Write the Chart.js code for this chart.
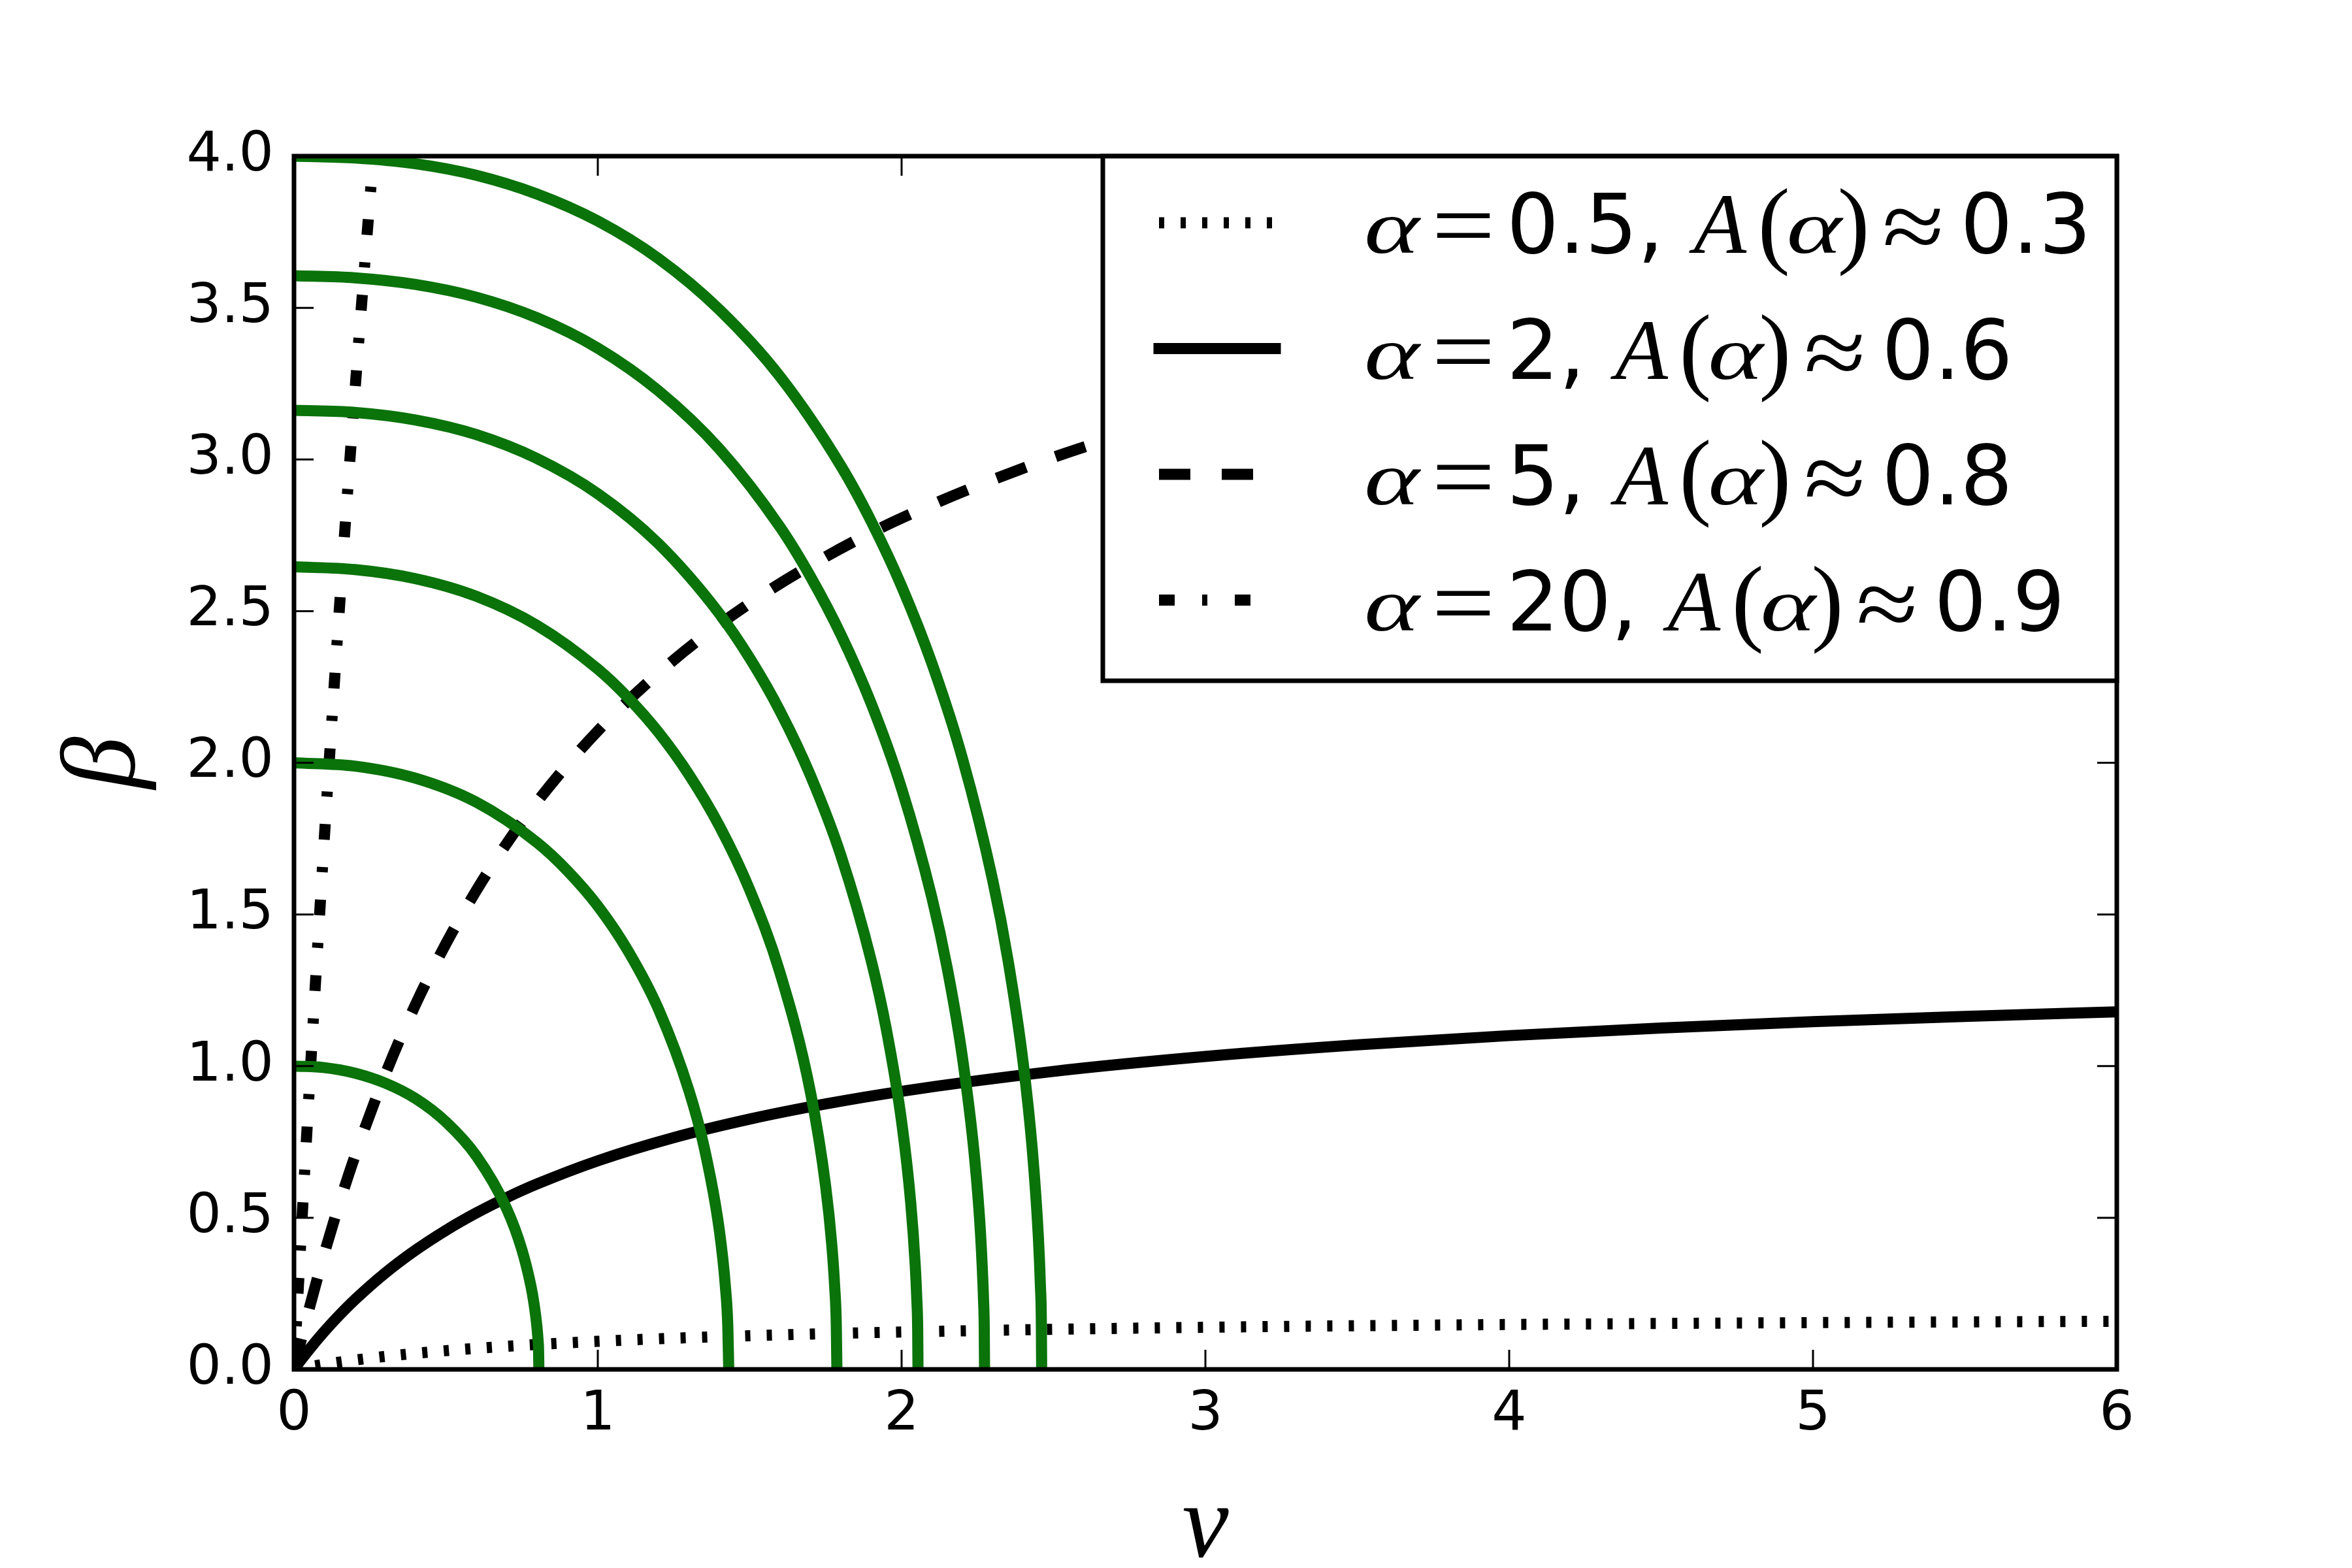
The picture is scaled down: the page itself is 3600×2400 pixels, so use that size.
<!DOCTYPE html>
<html>
<head>
<meta charset="utf-8">
<script src="https://cdn.jsdelivr.net/npm/chart.js@4.4.1/dist/chart.umd.min.js"></script>
<style>
  html, body { margin: 0; padding: 0; background: #fff; }
  canvas { display: block; }
</style>
</head>
<body>
<canvas id="chart" width="3600" height="2400"></canvas>
<script>
// nu grid shared by the alpha = 0.5, 2 and 5 curves
const curveNu = [0, 0.02, 0.05, 0.1, 0.15, 0.2, 0.3, 0.4, 0.5, 0.6, 0.7, 0.8, 1.0, 1.25, 1.5, 1.75, 2, 2.5, 3, 3.5, 4, 4.5, 5, 5.5, 6];
const betaAlpha05 = [0, 0.0036, 0.0088, 0.0168, 0.0241, 0.0308, 0.0427, 0.0529, 0.0617, 0.0694, 0.0762, 0.0822, 0.0925, 0.1028, 0.111, 0.1177, 0.1233, 0.1321, 0.1388, 0.1439, 0.148, 0.1514, 0.1542, 0.1565, 0.1586];
const betaAlpha2 = [0, 0.027, 0.0655, 0.125, 0.1794, 0.2293, 0.3174, 0.393, 0.4585, 0.5158, 0.5664, 0.6113, 0.6878, 0.7642, 0.8253, 0.8753, 0.917, 0.9825, 1.0316, 1.0698, 1.1004, 1.1254, 1.1463, 1.1639, 1.179];
const betaAlpha5 = [0, 0.0826, 0.2005, 0.3827, 0.5491, 0.7017, 0.9715, 1.2029, 1.4033, 1.5788, 1.7335, 1.8711, 2.105, 2.3389, 2.526, 2.6791, 2.8067, 3.0071, 3.1575, 3.2744, 3.368, 3.4445, 3.5083, 3.5623, 3.6086];
const nuAlpha20 = [0, 0.01, 0.02, 0.04, 0.06, 0.08, 0.1, 0.12, 0.14, 0.16, 0.18, 0.2, 0.22, 0.24, 0.26, 0.28];
const betaAlpha20 = [0, 0.191, 0.378, 0.742, 1.092, 1.430, 1.755, 2.068, 2.370, 2.662, 2.944, 3.217, 3.480, 3.735, 3.983, 4.222];

// green level curves
const arc1Nu = [0, 0.1, 0.2, 0.3, 0.4, 0.5, 0.6, 0.7, 0.75, 0.78, 0.79, 0.8, 0.803, 0.805, 0.806];
const arc1Beta = [1, 0.995, 0.977, 0.944, 0.893, 0.816, 0.704, 0.530, 0.395, 0.274, 0.217, 0.137, 0.100, 0.065, 0];
const arc2Nu = [0, 0.2, 0.4, 0.6, 0.8, 0.9, 1.0, 1.1, 1.2, 1.3, 1.35, 1.4, 1.42, 1.428, 1.431];
const arc2Beta = [2, 1.989, 1.949, 1.870, 1.737, 1.644, 1.528, 1.379, 1.187, 0.919, 0.733, 0.459, 0.273, 0.140, 0];
const arc3Nu = [0, 0.2, 0.4, 0.6, 0.8, 1.0, 1.1, 1.2, 1.3, 1.4, 1.5, 1.6, 1.7, 1.75, 1.77, 1.78, 1.785, 1.787];
const arc3Beta = [2.646, 2.637, 2.607, 2.549, 2.453, 2.309, 2.214, 2.100, 1.961, 1.792, 1.581, 1.307, 0.914, 0.604, 0.413, 0.268, 0.149, 0];
const arc4Nu = [0, 0.2, 0.4, 0.6, 0.8, 1.0, 1.2, 1.4, 1.5, 1.6, 1.7, 1.8, 1.9, 1.95, 2.0, 2.03, 2.045, 2.05, 2.053, 2.054];
const arc4Beta = [3.162, 3.155, 3.130, 3.082, 3.003, 2.887, 2.722, 2.492, 2.345, 2.170, 1.958, 1.695, 1.348, 1.120, 0.817, 0.550, 0.341, 0.233, 0.129, 0];
const arc5Nu = [0, 0.2, 0.4, 0.6, 0.8, 1.0, 1.2, 1.4, 1.6, 1.7, 1.8, 1.9, 2.0, 2.1, 2.15, 2.2, 2.24, 2.26, 2.27, 2.272, 2.273];
const arc5Beta = [3.606, 3.599, 3.577, 3.535, 3.467, 3.367, 3.226, 3.035, 2.777, 2.614, 2.423, 2.195, 1.915, 1.554, 1.324, 1.030, 0.700, 0.444, 0.221, 0.139, 0];
const arc6Nu = [0, 0.2, 0.4, 0.6, 0.8, 1.0, 1.2, 1.4, 1.6, 1.8, 1.9, 2.0, 2.1, 2.2, 2.3, 2.35, 2.4, 2.43, 2.45, 2.457, 2.46, 2.461];
const arc6Beta = [4, 3.994, 3.975, 3.937, 3.875, 3.786, 3.662, 3.494, 3.273, 2.979, 2.796, 2.582, 2.327, 2.015, 1.612, 1.351, 1.012, 0.727, 0.440, 0.273, 0.154, 0];

const xTicks = [0, 1, 2, 3, 4, 5, 6];
const yTicks = [0, 0.5, 1, 1.5, 2, 2.5, 3, 3.5, 4];
const legendAlpha = ['0.5', '2', '5', '20'];
const legendA = ['0.3', '0.6', '0.8', '0.9'];

function pts(nu, beta) {
    return nu.map((x, i) => ({x: x, y: beta[i]}));
}

function blackLine(i, data, dash) {
    return {
        label: 'α = ' + legendAlpha[i] + ', A(α) ≈ ' + legendA[i],
        data: data,
        borderColor: '#000',
        borderWidth: 17,
        borderDash: dash,
        order: 1
    };
}

function greenLine(data) {
    return {label: '', data: data, borderColor: '#0a730a', borderWidth: 17, order: 0};
}

const datasets = [
    blackLine(0, pts(curveNu, betaAlpha05), [8, 25]),
    blackLine(1, pts(curveNu, betaAlpha2), []),
    blackLine(2, pts(curveNu, betaAlpha5), [48, 48]),
    blackLine(3, pts(nuAlpha20, betaAlpha20), [24, 42, 8, 42]),
    greenLine(pts(arc1Nu, arc1Beta)),
    greenLine(pts(arc2Nu, arc2Beta)),
    greenLine(pts(arc3Nu, arc3Beta)),
    greenLine(pts(arc4Nu, arc4Beta)),
    greenLine(pts(arc5Nu, arc5Beta)),
    greenLine(pts(arc6Nu, arc6Beta))
];
datasets.forEach(d => {
    d.showLine = true;
    d.pointRadius = 0;
    d.fill = false;
    d.clip = 0;
    d.cubicInterpolationMode = 'monotone';
});

// white page
const background = {
    id: 'background',
    beforeDraw(chart) {
        const ctx = chart.ctx;
        ctx.save();
        ctx.fillStyle = '#fff';
        ctx.fillRect(0, 0, chart.width, chart.height);
        ctx.restore();
    }
};

// frame, inward ticks on all four sides, axis titles
const frame = {
    id: 'frame',
    afterDatasetsDraw(chart) {
        const ctx = chart.ctx;
        const a = chart.chartArea;
        const xs = chart.scales.x, ys = chart.scales.y;
        ctx.save();
        ctx.strokeStyle = '#000';
        ctx.lineWidth = 3;
        ctx.beginPath();
        xTicks.forEach(v => {
            const px = xs.getPixelForValue(v);
            ctx.moveTo(px, a.bottom); ctx.lineTo(px, a.bottom - 30);
            ctx.moveTo(px, a.top); ctx.lineTo(px, a.top + 30);
        });
        yTicks.forEach(v => {
            const py = ys.getPixelForValue(v);
            ctx.moveTo(a.left, py); ctx.lineTo(a.left + 30, py);
            ctx.moveTo(a.right, py); ctx.lineTo(a.right - 30, py);
        });
        ctx.stroke();
        ctx.lineWidth = 7;
        ctx.strokeRect(a.left, a.top, a.right - a.left, a.bottom - a.top);

        ctx.fillStyle = '#000';
        ctx.font = 'italic 160px "Liberation Serif"';
        ctx.textAlign = 'center';
        ctx.textBaseline = 'alphabetic';
        ctx.fillText('ν', (a.left + a.right) / 2, 2382);
        ctx.translate(205, (a.top + a.bottom) / 2);
        ctx.rotate(-Math.PI / 2);
        ctx.fillText('β', 0, 0);
        ctx.restore();
    }
};

// draws a math-italic alpha a bit wider and flatter than the font's own
function drawAlpha(ctx, x, y) {
    ctx.save();
    ctx.translate(x, y);
    ctx.scale(1.22, 0.88);
    ctx.font = 'italic 132px "Liberation Serif"';
    ctx.textAlign = 'left';
    ctx.fillText('α', 0, 0);
    ctx.restore();
}

// relation sign (= or ≈), a little wider than the plain glyph
function drawRel(ctx, sign, cx, y) {
    ctx.save();
    ctx.translate(cx, y);
    ctx.scale(1.15, 1);
    ctx.font = '150px "Liberation Serif"';
    ctx.textAlign = 'center';
    ctx.fillText(sign, 0, 0);
    ctx.restore();
}

// legend box in the upper right corner, drawn over the curves
const legendBox = {
    id: 'legendBox',
    afterDraw(chart) {
        const ctx = chart.ctx;
        const a = chart.chartArea;
        const right = a.right, top = a.top, left = right - 1552, bottom = top + 803;
        ctx.save();
        ctx.fillStyle = '#fff';
        ctx.fillRect(left, top, right - left, bottom - top);
        ctx.strokeStyle = '#000';
        ctx.lineWidth = 7;
        ctx.strokeRect(left, top, right - left, bottom - top);

        const sans = '126px "DejaVu Sans"';
        const ital = 'italic 132px "Liberation Serif"';
        const paren = '148px "Liberation Serif"';
        for (let i = 0; i < 4; i++) {
            const ds = chart.data.datasets[i];
            const yc = top + 102 + i * 192.5;
            ctx.strokeStyle = '#000';
            ctx.lineWidth = ds.borderWidth;
            ctx.setLineDash(ds.borderDash);
            ctx.lineCap = ds.borderDash.length ? 'butt' : 'square';
            ctx.beginPath();
            ctx.moveTo(left + 86, yc);
            ctx.lineTo(left + 264, yc);
            ctx.stroke();
            ctx.setLineDash([]);
            ctx.lineCap = 'butt';

            const base = yc + 46;
            ctx.fillStyle = '#000';
            ctx.textBaseline = 'alphabetic';
            drawAlpha(ctx, left + 400, base);
            drawRel(ctx, '=', left + 552, base + 8);
            ctx.textAlign = 'left';
            ctx.font = sans;
            const numText = legendAlpha[i] + ',';
            const numX = left + 618;
            ctx.fillText(numText, numX, base);
            const ax = numX + ctx.measureText(numText).width + 46;
            ctx.font = ital;
            ctx.fillText('A', ax, base);
            ctx.font = paren;
            ctx.fillText('(', ax + 98, base + 4);
            drawAlpha(ctx, ax + 142, base);
            ctx.font = paren;
            ctx.fillText(')', ax + 220, base + 4);
            drawRel(ctx, '≈', ax + 336, base + 10);
            ctx.textAlign = 'left';
            ctx.font = sans;
            ctx.fillText(legendA[i], ax + 408, base);
        }
        ctx.restore();
    }
};

const tickFont = {family: 'DejaVu Sans', size: 84};

new Chart(document.getElementById('chart').getContext('2d'), {
    type: 'scatter',
    data: {datasets: datasets},
    options: {
        responsive: false,
        animation: false,
        devicePixelRatio: 1,
        events: [],
        layout: {padding: {left: 0, top: 239, right: 360, bottom: 0}},
        plugins: {legend: {display: false}, tooltip: {enabled: false}},
        scales: {
            x: {
                type: 'linear', min: 0, max: 6,
                grid: {display: false, drawTicks: false},
                border: {display: false},
                afterBuildTicks: s => { s.ticks = xTicks.map(v => ({value: v})); },
                afterFit: s => { s.height = 304; },
                ticks: {font: tickFont, color: '#000', padding: 20, maxRotation: 0, autoSkip: false,
                        callback: v => String(v)}
            },
            y: {
                type: 'linear', min: 0, max: 4,
                grid: {display: false, drawTicks: false},
                border: {display: false},
                afterBuildTicks: s => { s.ticks = yTicks.map(v => ({value: v})); },
                afterFit: s => { s.width = 450; },
                ticks: {font: tickFont, color: '#000', padding: 31, autoSkip: false,
                        callback: v => v.toFixed(1)}
            }
        }
    },
    plugins: [background, frame, legendBox]
});
</script>
</body>
</html>
